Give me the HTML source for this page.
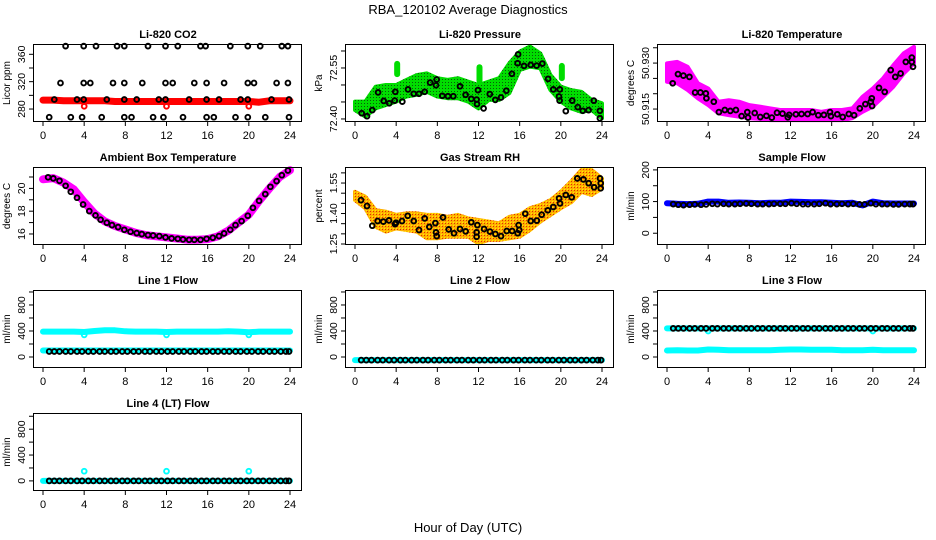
<!DOCTYPE html>
<html><head><meta charset="utf-8"><title>RBA_120102 Average Diagnostics</title>
<style>
html,body{margin:0;padding:0;background:#fff;}
svg{display:block;font-family:"Liberation Sans",Arial,sans-serif;}
</style></head>
<body>
<svg id="chart" width="936" height="540" viewBox="0 0 936 540" xmlns="http://www.w3.org/2000/svg">
<defs>
<pattern id="gdots" width="3" height="3" patternUnits="userSpaceOnUse"><rect width="3" height="3" fill="#00dd00"/><rect x="1" y="1" width="1" height="1" fill="#0a5a0a"/></pattern>
<pattern id="odots" width="3" height="3" patternUnits="userSpaceOnUse"><rect width="3" height="3" fill="#ffb000"/><rect x="1" y="1" width="1" height="1" fill="#e03000"/><rect x="0" y="0" width="1" height="1" fill="#ffee00"/></pattern>
</defs>
<text x="468" y="14" font-size="13" text-anchor="middle">RBA_120102  Average Diagnostics</text>
<text x="468" y="532" font-size="13" text-anchor="middle">Hour of Day (UTC)</text>
</svg>
<script>
// ---------- shared data ----------
const hours = [0,1,2,3,4,5,6,7,8,9,10,11,12,13,14,15,16,17,18,19,20,21,22,23,24];
const avgT = [0.6,1.1,1.6,2.2,2.7,3.3,3.8,4.4,4.9,5.5,6.0,6.6,7.1,7.7,8.2,8.8,9.3,9.9,10.4,11.0,11.5,12.1,12.6,13.2,13.7,14.3,14.8,15.4,15.9,16.5,17.0,17.6,18.1,18.7,19.2,19.8,20.3,20.9,21.4,22.0,22.5,23.1,23.6,23.9];
const xTicks = [0,4,8,12,16,20,24];

// ---------- CO2 ----------
const co2T = [2.2,3.95,5.15,7.2,7.9,10.2,11.9,13.1,15.3,15.8,18.2,19.9,21.1,23.2,23.8,
 1.7,3.95,4.6,6.8,7.9,9.65,11.9,12.6,14.7,15.9,17.6,19.9,20.5,22.7,23.8,
 1.1,3.3,3.95,6.2,7.9,9.1,11.25,11.9,14.2,15.9,17.1,19.2,19.9,22.2,23.9,
 0.6,2.7,3.8,5.7,7.9,8.6,10.7,11.7,13.6,15.9,16.6,18.7,19.9,21.6,23.9];
const co2V = [372,372,372,372,372,372,372,372,372,372,372,372,372,372,372,
 318,318,318,318,318,318,318,318,318,318,318,318,318,318,318,
 294,294,294,294,294,294,294,294,294,294,294,294,294,294,294,
 268,268,268,268,268,268,268,268,268,268,268,268,268,268,268];
const co2Band = [293,293,292,292,292,292,292,291,291,291,291,291,291,291,291,291,291,291,291,291,291,290,292,292,292];
const co2RedT = [4,12,20];
const co2RedV = [284,284,284];

// ---------- Pressure ----------
const presT = [0.65,1.17,1.68,2.24,2.79,3.33,3.86,3.92,4.6,5.15,5.7,6.22,6.77,7.3,7.87,7.94,8.48,9.04,9.55,10.2,10.75,11.3,11.82,11.85,11.95,12.5,13.1,13.63,14.19,14.7,15.25,15.8,15.85,16.42,17.07,17.65,18.2,18.76,19.27,19.82,19.88,19.9,20.48,21.1,21.65,22.13,22.7,23.2,23.8,23.8];
const presV = [72.417,72.408,72.426,72.478,72.453,72.446,72.454,72.480,72.451,72.487,72.474,72.474,72.480,72.507,72.499,72.516,72.468,72.467,72.467,72.496,72.471,72.459,72.457,72.444,72.485,72.431,72.473,72.456,72.463,72.483,72.533,72.564,72.590,72.556,72.559,72.557,72.563,72.518,72.487,72.466,72.454,72.487,72.423,72.454,72.435,72.424,72.426,72.454,72.424,72.402];
const presHi = [72.451,72.451,72.495,72.500,72.500,72.515,72.529,72.534,72.520,72.515,72.520,72.510,72.500,72.510,72.520,72.564,72.598,72.613,72.593,72.529,72.495,72.485,72.480,72.456,72.446];
const presLo = [72.426,72.407,72.431,72.441,72.451,72.466,72.471,72.480,72.466,72.461,72.461,72.451,72.431,72.456,72.456,72.476,72.544,72.554,72.549,72.485,72.451,72.431,72.421,72.426,72.402];
const presBlobT = [4,12,20];
const presBlobHi = [72.562,72.552,72.556];
const presBlobLo = [72.532,72.512,72.520];

// ---------- Li-820 Temperature ----------
const tempT = [0.55,1.07,1.59,2.18,2.73,3.25,3.77,3.83,4.55,5.04,5.62,6.15,6.69,7.25,7.8,7.87,8.52,9.07,9.66,10.18,10.69,11.22,11.74,11.87,12.52,13.07,13.66,14.15,14.7,15.25,15.84,15.93,16.55,17.07,17.66,18.18,18.73,19.28,19.8,19.9,19.93,20.6,21.15,21.74,22.18,22.7,23.2,23.79,23.9,23.79];
const tempV = [50.9234,50.9264,50.9259,50.9255,50.9204,50.9204,50.9201,50.9185,50.9174,50.9140,50.9147,50.9144,50.9147,50.9127,50.9140,50.9122,50.9137,50.9124,50.9128,50.9122,50.9138,50.9135,50.9123,50.9131,50.9133,50.9134,50.9134,50.9140,50.9130,50.9131,50.9140,50.9127,50.9133,50.9124,50.9134,50.9130,50.9152,50.9166,50.9174,50.9185,50.9160,50.9219,50.9206,50.9277,50.9255,50.9266,50.9304,50.9318,50.9288,50.9304];
const tempHi = [50.9299,50.9304,50.9288,50.9234,50.9217,50.9174,50.9179,50.9174,50.9163,50.9158,50.9152,50.9147,50.9147,50.9147,50.9147,50.9141,50.9147,50.9147,50.9152,50.9190,50.9217,50.9250,50.9293,50.9332,50.9353];
const tempLo = [50.9239,50.9234,50.9212,50.9185,50.9163,50.9136,50.9130,50.9125,50.9120,50.9118,50.9114,50.9114,50.9114,50.9114,50.9114,50.9114,50.9114,50.9114,50.9120,50.9141,50.9158,50.9190,50.9223,50.9266,50.9299];

// ---------- Ambient Box Temperature ----------
const ambT = [0.5,1,1.6,2.2,2.7,3.3,3.9,4.5,5.1,5.6,6.2,6.7,7.3,7.9,8.5,9.1,9.6,10.2,10.7,11.3,11.9,12.5,13.1,13.6,14.2,14.7,15.3,15.9,16.5,17.1,17.6,18.2,18.7,19.3,19.9,20.4,21,21.6,22.1,22.7,23.2,23.8];
const ambV = [20.97,20.88,20.67,20.23,19.7,19.18,18.59,18.01,17.63,17.25,16.99,16.78,16.6,16.37,16.2,16.08,15.99,15.9,15.87,15.81,15.7,15.61,15.58,15.52,15.49,15.49,15.49,15.58,15.67,15.81,16.05,16.37,16.78,17.13,17.6,18.3,18.91,19.5,20.14,20.64,21.16,21.57];
const ambBand = [20.8,20.9,20.5,19.9,18.8,17.8,17.1,16.7,16.4,16.1,15.9,15.8,15.7,15.6,15.5,15.5,15.55,15.8,16.3,17.0,17.7,18.9,20.0,21.0,21.6];

// ---------- Gas Stream RH ----------
const rhT = [0.58,1.17,1.68,2.2,2.75,3.3,3.89,3.98,4.57,5.12,5.7,6.22,6.77,7.22,7.81,7.87,7.94,8.55,9.1,9.62,10.2,10.76,11.3,11.89,11.82,11.82,12.54,13.12,13.64,14.19,14.74,15.26,15.81,15.9,15.96,16.55,17.07,17.66,18.14,18.73,19.27,19.83,19.92,20.48,21.06,21.6,22.19,22.71,23.23,23.81,23.87,23.87];
const rhV = [1.466,1.437,1.340,1.363,1.360,1.366,1.348,1.355,1.363,1.389,1.363,1.319,1.376,1.334,1.353,1.307,1.289,1.381,1.322,1.303,1.324,1.312,1.357,1.343,1.307,1.286,1.324,1.311,1.299,1.289,1.314,1.314,1.303,1.343,1.319,1.399,1.363,1.365,1.394,1.416,1.432,1.475,1.450,1.491,1.480,1.573,1.568,1.549,1.529,1.573,1.524,1.549];
const rhHi = [1.507,1.483,1.417,1.409,1.393,1.401,1.401,1.393,1.393,1.384,1.393,1.376,1.368,1.360,1.352,1.384,1.393,1.426,1.442,1.466,1.507,1.557,1.614,1.614,1.573];
const rhLo = [1.466,1.426,1.335,1.311,1.327,1.319,1.311,1.278,1.278,1.286,1.286,1.286,1.253,1.270,1.270,1.278,1.286,1.319,1.360,1.393,1.426,1.455,1.507,1.491,1.524];

// ---------- Sample Flow ----------
const sfV = [92,90,89,90,91,90,91,93,92,93,92,92,93,94,93,92,92,92,93,93,93,95,93,92,92,92,93,95,92,92,93,92,93,91,91,95,92,92,92,91,91,92,92,92];
const sfBand = [95,93,92,93,100,100,96,97,96,95,96,96,100,99,98,98,96,95,96,88,100,95,94,94,94];

// ---------- Line flows ----------
const l1Black = [85,85,85,85,85,85,85,85,85,85,85,85,85,85,85,85,85,85,85,85,85,85,85,85,85,85,85,85,85,85,85,85,85,85,85,85,85,85,85,85,85,85,85,85];
const l1CyanHi = [390,390,390,390,385,400,410,410,395,390,390,390,385,390,390,390,390,390,395,390,380,390,390,390,390];
const l1CyanLo = [100,100,100,100,100,100,100,100,100,100,100,100,100,100,100,100,100,100,100,100,100,100,100,100,100];
const l1DipT = [4,12,20];
const l1DipV = [340,340,340];
const l2Black = [-48,-48,-48,-48,-48,-48,-48,-48,-48,-48,-48,-48,-48,-48,-48,-48,-48,-48,-48,-48,-48,-48,-48,-48,-48,-48,-48,-48,-48,-48,-48,-48,-48,-48,-48,-48,-48,-48,-48,-48,-48,-48,-48,-48];
const l2Cyan = [-48,-48,-48,-48,-48,-48,-48,-48,-48,-48,-48,-48,-48,-48,-48,-48,-48,-48,-48,-48,-48,-48,-48,-48,-48];
const l3Black = [440,440,440,440,440,440,440,440,440,440,440,440,440,440,440,440,440,440,440,440,440,440,440,440,440,440,440,440,440,440,440,440,440,440,440,440,440,440,440,440,440,440,440,440];
const l3CyanHi = [440,440,440,440,440,440,440,440,440,440,440,440,440,440,440,440,440,440,440,440,440,440,440,440,440];
const l3CyanLo = [100,105,100,100,115,110,105,105,105,105,105,110,115,115,110,110,110,105,105,105,110,105,105,105,105];
const l3DipT = [4,20];
const l3DipV = [400,400];
const l4Black = [0,0,0,0,0,0,0,0,0,0,0,0,0,0,0,0,0,0,0,0,0,0,0,0,0,0,0,0,0,0,0,0,0,0,0,0,0,0,0,0,0,0,0,0];
const l4Cyan = [0,0,0,0,0,0,0,0,0,0,0,0,0,0,0,0,0,0,0,0,0,0,0,0,0];
const l4SpikeT = [4,12,20];
const l4SpikeV = [150,150,150];

// ---------- drawing ----------
const NS = 'http://www.w3.org/2000/svg';
const svg = document.getElementById('chart');
const W = 268, H = 76;
function mk(tag, attrs, parent) {
  const e = document.createElementNS(NS, tag);
  for (const k in attrs) e.setAttribute(k, attrs[k]);
  (parent || svg).appendChild(e);
  return e;
}
function makePanel(name, title, ylab, L, T, y0, y1, yt, yl) {
  const g = mk('g', {});
  
  
  const P = { g: g,
    x: t => L + 9 + t * 247 / 24,
    y: v => T + H - (v - y0) / (y1 - y0) * H };
  const tt = mk('text', { x: L + W / 2, y: T - 7, 'font-size': 11, 'font-weight': 'bold', 'text-anchor': 'middle' }, g);
  tt.textContent = title;
  
  
  const yt2 = mk('text', { transform: `translate(${L - 24},${T + H / 2}) rotate(-90)`, 'font-size': 10, 'text-anchor': 'middle' }, g);
  yt2.textContent = ylab;
  
  
  const ax = mk('g', { stroke: '#000', 'stroke-width': 1 }, g);
  
  
  mk('line', { x1: P.x(0), x2: P.x(24), y1: T + H + 0.5, y2: T + H + 0.5 }, ax);
  xTicks.forEach(v => {
    mk('line', { x1: P.x(v), x2: P.x(v), y1: T + H, y2: T + H + 5 }, ax);
    const tx = mk('text', { x: P.x(v), y: T + H + 18, 'font-size': 11, 'text-anchor': 'middle', stroke: 'none' }, g);
    tx.textContent = v;
    
    
  });
  const ay = mk('g', { stroke: '#000', 'stroke-width': 1 }, g);
  
  
  mk('line', { x1: L - 0.5, x2: L - 0.5, y1: P.y(yt[0]), y2: P.y(yt[yt.length - 1]) }, ay);
  yt.forEach(v => mk('line', { x1: L - 5, x2: L, y1: P.y(v), y2: P.y(v) }, ay));
  yl.forEach(s => {
    const v = parseFloat(s);
    const tx = mk('text', { transform: `translate(${L - 9},${P.y(v)}) rotate(-90)`, 'font-size': 10.5, 'text-anchor': 'middle' }, g);
    tx.textContent = s;
    
    
  });
  P.marks = mk('g', {}, g);
  
  
  const box = mk('rect', { x: L - 0.5, y: T - 0.5, width: W, height: H + 1, fill: 'none', stroke: '#000', 'stroke-width': 1 }, g);
  
  
  return P;
}
function band(P, ts, vs, color, w, name) {
  const d = ts.map((t, i) => (i ? 'L' : 'M') + P.x(t).toFixed(1) + ' ' + P.y(vs[i]).toFixed(1)).join(' ');
  const p = mk('path', { d: d, fill: 'none', stroke: color, 'stroke-width': w, 'stroke-linejoin': 'round', 'stroke-linecap': 'round' }, P.marks);
  
  
}
function area(P, ts, hi, lo, fill, name) {
  let d = ts.map((t, i) => (i ? 'L' : 'M') + P.x(t).toFixed(1) + ' ' + P.y(hi[i]).toFixed(1)).join(' ');
  for (let i = ts.length - 1; i >= 0; i--) d += ' L' + P.x(ts[i]).toFixed(1) + ' ' + P.y(lo[i]).toFixed(1);
  const p = mk('path', { d: d + ' Z', fill: fill, stroke: fill, 'stroke-width': 4, 'stroke-linejoin': 'round' }, P.marks);
  
  
}
function pts(P, ts, vs, color, name) {
  const g = mk('g', { fill: 'none', stroke: color, 'stroke-width': 1.9 }, P.marks);
  
  
  ts.forEach((t, i) => {
    const c = mk('circle', { cx: P.x(t).toFixed(1), cy: P.y(vs[i]).toFixed(1), r: 2.4 }, g);
    
    
  });
}
function blobs(P, ts, hi, lo, color, name) {
  const g = mk('g', { stroke: color, 'stroke-width': 6, 'stroke-linecap': 'round' }, P.marks);
  
  
  ts.forEach((t, i) => {
    const l = mk('line', { x1: P.x(t) + 1, x2: P.x(t) + 1, y1: P.y(hi[i]), y2: P.y(lo[i]) }, g);
    
    
  });
}
const flowTicks = [0, 200, 400, 600, 800, 1000], flowLabels = ['0', '400', '800'];
const C1 = 34, C2 = 346, C3 = 658, R1 = 45, R2 = 168, R3 = 291, R4 = 414;

let P = makePanel('co2-panel', 'Li-820 CO2', 'Licor ppm', C1, R1, 262.5, 373.6, [280, 300, 320, 340, 360], ['280', '320', '360']);
band(P, hours, co2Band, '#ff0000', 7, 'co2-red-band');
pts(P, co2RedT, co2RedV, '#ff0000', 'co2-red-points');
pts(P, co2T, co2V, '#000', 'co2-average-points');

P = makePanel('pressure-panel', 'Li-820 Pressure', 'kPa', C2, R1, 72.394, 72.6176, [72.40, 72.45, 72.50, 72.55, 72.60], ['72.40', '72.55']);
area(P, hours, presHi, presLo, 'url(#gdots)', 'pressure-green-band');
blobs(P, presBlobT, presBlobHi, presBlobLo, '#00dd00', 'pressure-blobs');
pts(P, presT, presV, '#000', 'pressure-average-points');

P = makePanel('li820-temperature-panel', 'Li-820 Temperature', 'degrees C', C3, R1, 50.9111, 50.9359, [50.915, 50.920, 50.925, 50.930, 50.935], ['50.915', '50.930']);
area(P, hours, tempHi, tempLo, '#ff00ff', 'temperature-magenta-band');
pts(P, tempT, tempV, '#000', 'temperature-average-points');

P = makePanel('ambient-temperature-panel', 'Ambient Box Temperature', 'degrees C', C1, R2, 15.12, 21.79, [16, 17, 18, 19, 20, 21], ['16', '18', '20']);
band(P, hours, ambBand, '#ff00ff', 8, 'ambient-magenta-band');
pts(P, ambT, ambV, '#000', 'ambient-average-points');

P = makePanel('rh-panel', 'Gas Stream RH', 'percent', C2, R2, 1.25, 1.624, [1.25, 1.30, 1.35, 1.40, 1.45, 1.50, 1.55, 1.60], ['1.25', '1.40', '1.55']);
area(P, hours, rhHi, rhLo, 'url(#odots)', 'rh-orange-band');
pts(P, rhT, rhV, '#000', 'rh-average-points');

P = makePanel('sample-flow-panel', 'Sample Flow', 'ml/min', C3, R2, -34, 206, [0, 50, 100, 150, 200], ['0', '100', '200']);
band(P, hours, sfBand, '#0000ff', 6, 'sample-flow-blue-band');
pts(P, avgT, sfV, '#000', 'sample-flow-average-points');

P = makePanel('line1-flow-panel', 'Line 1 Flow', 'ml/min', C1, R3, -154, 1015, flowTicks, flowLabels);
band(P, hours, l1CyanHi, '#00ffff', 6, 'line1-cyan-upper');
band(P, hours, l1CyanLo, '#00ffff', 6, 'line1-cyan-lower');
pts(P, l1DipT, l1DipV, '#00ffff', 'line1-cyan-dips');
pts(P, avgT, l1Black, '#000', 'line1-average-points');

P = makePanel('line2-flow-panel', 'Line 2 Flow', 'ml/min', C2, R3, -154, 1015, flowTicks, flowLabels);
band(P, hours, l2Cyan, '#00ffff', 6, 'line2-cyan-band');
pts(P, avgT, l2Black, '#000', 'line2-average-points');

P = makePanel('line3-flow-panel', 'Line 3 Flow', 'ml/min', C3, R3, -154, 1015, flowTicks, flowLabels);
band(P, hours, l3CyanHi, '#00ffff', 6, 'line3-cyan-upper');
band(P, hours, l3CyanLo, '#00ffff', 6, 'line3-cyan-lower');
pts(P, l3DipT, l3DipV, '#00ffff', 'line3-cyan-dips');
pts(P, avgT, l3Black, '#000', 'line3-average-points');

P = makePanel('line4-flow-panel', 'Line 4 (LT) Flow', 'ml/min', C1, R4, -141, 1035, flowTicks, flowLabels);
band(P, hours, l4Cyan, '#00ffff', 6, 'line4-cyan-band');
pts(P, l4SpikeT, l4SpikeV, '#00ffff', 'line4-cyan-spikes');
pts(P, avgT, l4Black, '#000', 'line4-average-points');
</script>
</body></html>
